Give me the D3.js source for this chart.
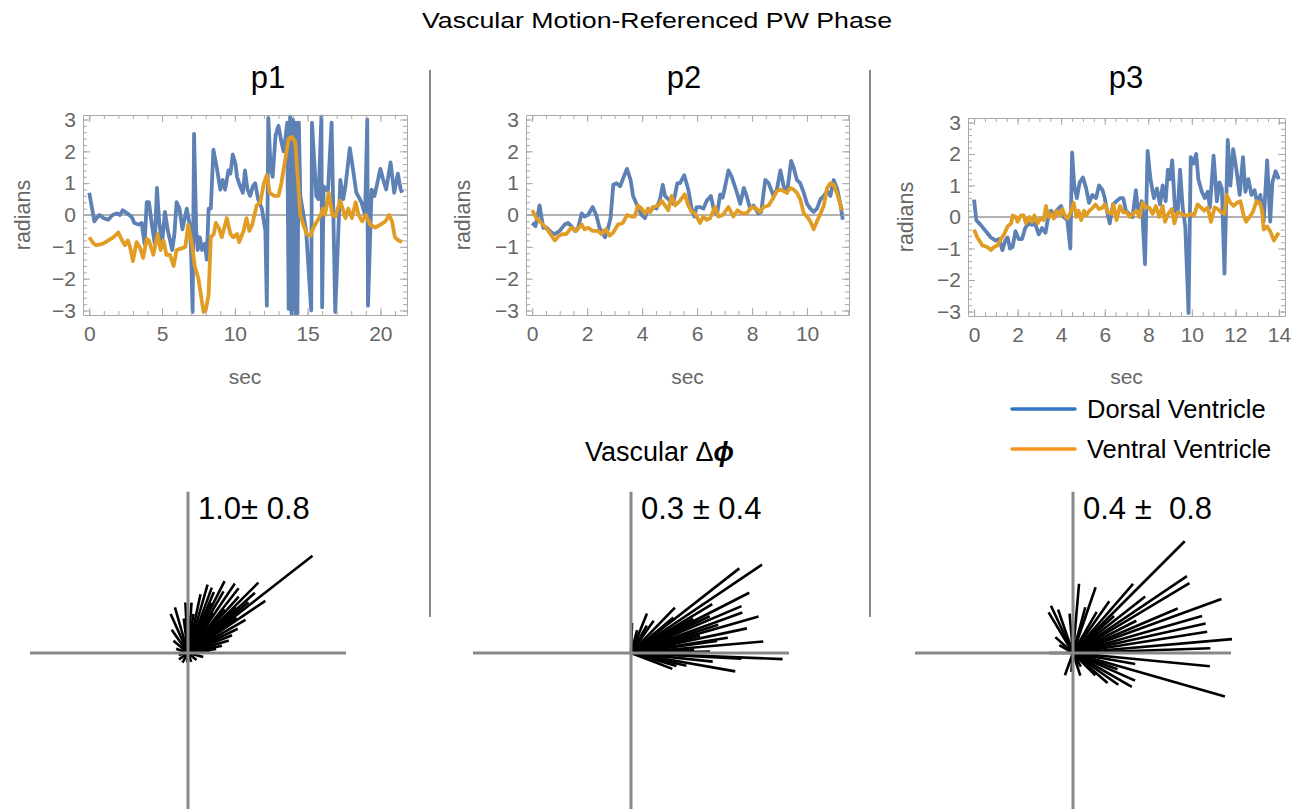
<!DOCTYPE html>
<html>
<head>
<meta charset="utf-8">
<script src="https://cdn.jsdelivr.net/npm/d3@7"></script>
<style>
  body { margin: 0; background: #fff; }
  text { font-family: "Liberation Sans", Arial, Helvetica, sans-serif; }
</style>
</head>
<body>
<div id="container"></div>
<script>
(function(){
  "use strict";

  // ---- data: [sec, radians] ----
  var p1Dorsal = [[0,0.7],[0.35,-0.2],[0.5,-0.1],[0.7,0.0],[1.0,-0.1],[1.3,-0.15],[1.6,0.0],[1.9,0.05],[2.1,0.0],[2.3,0.15],[2.6,0.05],[2.9,-0.05],[3.1,-0.25],[3.4,-0.3],[3.6,-0.25],[3.8,-0.9],[3.95,0.4],[4.1,0.4],[4.3,-0.3],[4.5,-0.9],[4.65,0.85],[4.8,-0.2],[5.0,-0.9],[5.2,0.1],[5.4,-0.5],[5.7,-1.1],[5.85,-0.6],[6.0,0.4],[6.2,0.2],[6.4,-0.45],[6.7,0.2],[6.9,-0.3],[7.0,-1.2],[7.1,-3.05],[7.2,2.55],[7.35,-0.5],[7.45,-1.1],[7.6,-0.7],[7.75,-1.1],[7.95,-0.9],[8.07,-1.4],[8.2,0.2],[8.35,0.2],[8.53,2.05],[8.76,1.5],[9.0,0.8],[9.17,1.1],[9.33,0.8],[9.45,1.1],[9.56,1.4],[9.7,1.3],[9.86,1.9],[10.05,1.6],[10.15,1.2],[10.37,0.9],[10.55,0.7],[10.7,1.4],[10.87,0.8],[11.05,0.6],[11.24,0.9],[11.4,1.0],[11.6,0.5],[11.86,0.2],[12.1,-0.5],[12.2,-2.85],[12.3,3.05],[12.45,1.6],[12.6,1.2],[12.8,2.5],[13.0,2.8],[13.2,2.3],[13.35,2.0],[13.45,2.3],[13.6,2.9],[13.7,-2.95],[13.8,3.1],[13.9,-3.1],[14.0,3.0],[14.05,-3.1],[14.2,2.9],[14.3,-3.1],[14.4,2.9],[14.5,0.6],[14.9,-0.5],[15.25,-3.0],[15.3,2.9],[15.6,0.6],[15.75,0.5],[15.95,3.1],[16.0,-2.9],[16.1,0.9],[16.4,0.75],[16.65,2.9],[16.9,-3.05],[17.25,1.1],[17.45,0.5],[17.6,0.9],[17.9,2.1],[18.1,1.5],[18.35,0.7],[18.7,0.4],[18.95,0.0],[19.1,3.0],[19.15,-2.85],[19.4,0.8],[19.6,0.6],[20.0,1.45],[20.2,1.1],[20.4,0.8],[20.7,1.65],[20.95,0.7],[21.2,1.3],[21.4,0.8],[21.5,0.7]];
  var p1Ventral = [[0,-0.7],[0.3,-0.9],[0.5,-0.95],[0.95,-0.9],[1.65,-0.7],[2.0,-0.55],[2.2,-0.75],[2.45,-0.95],[2.65,-0.8],[2.8,-1.0],[3.0,-1.45],[3.25,-0.85],[3.5,-1.05],[3.7,-1.35],[3.95,-0.75],[4.1,-0.8],[4.3,-1.1],[4.4,-1.25],[4.7,-0.6],[4.9,-1.1],[5.1,-0.8],[5.3,-1.25],[5.55,-1.25],[5.8,-1.6],[6.0,-1.1],[6.35,-1.05],[6.6,-1.0],[6.8,-0.3],[7.05,-0.9],[7.25,-1.6],[7.5,-2.0],[7.7,-2.6],[7.85,-3.05],[8.0,-3.0],[8.2,-2.5],[8.35,-0.7],[8.55,-0.6],[8.7,-0.25],[8.9,-0.4],[9.1,-0.7],[9.45,-0.1],[9.7,-0.6],[9.9,-0.7],[10.15,-0.6],[10.3,-0.85],[10.6,-0.5],[10.8,-0.1],[11.0,-0.5],[11.2,-0.3],[11.5,0.3],[11.75,0.4],[12.0,1.0],[12.2,1.25],[12.4,0.7],[12.7,0.6],[13.0,0.6],[13.2,1.0],[13.45,1.7],[13.7,2.4],[13.9,2.45],[14.15,2.3],[14.35,1.0],[14.5,0.0],[14.7,-0.3],[14.95,-0.6],[15.2,-0.65],[15.4,-0.4],[15.65,-0.2],[15.9,0.0],[16.05,0.2],[16.2,0.0],[16.45,0.7],[16.7,0.0],[16.9,-0.05],[17.25,0.45],[17.6,-0.1],[17.8,0.2],[18.05,-0.1],[18.3,0.4],[18.5,0.0],[18.75,-0.2],[19.0,0.0],[19.3,-0.3],[19.65,-0.4],[20.0,-0.3],[20.35,-0.2],[20.6,0.0],[20.8,-0.2],[21.0,-0.7],[21.25,-0.8],[21.5,-0.85]];

  var p2Dorsal = [[0,-0.25],[0.12,-0.35],[0.27,0.3],[0.4,-0.4],[0.53,-0.4],[0.7,-0.55],[0.82,-0.6],[1.0,-0.5],[1.18,-0.3],[1.3,-0.25],[1.42,-0.35],[1.55,-0.5],[1.67,-0.4],[1.8,0.05],[1.9,-0.05],[2.03,0.0],[2.2,0.25],[2.33,0.0],[2.45,-0.4],[2.65,-0.7],[2.75,-0.45],[2.85,-0.1],[2.95,0.95],[3.07,1.0],[3.2,0.9],[3.33,1.2],[3.45,1.45],[3.58,1.1],[3.67,0.6],[3.82,0.3],[3.98,0.0],[4.1,-0.1],[4.22,0.2],[4.3,0.1],[4.4,0.25],[4.52,0.2],[4.65,0.5],[4.75,0.95],[4.83,0.6],[4.95,0.5],[5.13,0.35],[5.28,1.0],[5.38,1.0],[5.53,1.25],[5.68,0.8],[5.8,0.2],[5.9,-0.05],[5.98,0.25],[6.1,0.25],[6.23,0.2],[6.35,0.45],[6.5,0.6],[6.6,0.2],[6.72,0.0],[6.84,0.65],[6.93,0.55],[7.02,0.9],[7.14,1.4],[7.26,1.2],[7.45,0.7],[7.57,0.35],[7.7,0.85],[7.8,0.6],[7.93,0.2],[8.05,0.3],[8.23,0.05],[8.33,0.1],[8.48,1.1],[8.6,1.0],[8.78,0.6],[8.9,0.8],[9.03,1.4],[9.15,0.9],[9.27,0.7],[9.42,1.7],[9.51,1.5],[9.63,1.1],[9.75,1.0],[9.88,0.7],[10.0,0.35],[10.12,0.2],[10.24,0.1],[10.36,0.2],[10.49,0.5],[10.61,0.6],[10.73,0.75],[10.85,0.6],[10.97,1.1],[11.1,0.8],[11.22,0.3],[11.3,-0.15]];
  var p2Ventral = [[0,0.15],[0.15,-0.1],[0.33,-0.25],[0.5,-0.4],[0.7,-0.65],[0.82,-0.8],[0.97,-0.65],[1.12,-0.6],[1.24,-0.6],[1.42,-0.4],[1.6,-0.5],[1.8,-0.3],[1.9,-0.45],[2.03,-0.4],[2.2,-0.5],[2.4,-0.5],[2.52,-0.6],[2.68,-0.45],[2.82,-0.65],[2.95,-0.55],[3.12,-0.3],[3.3,-0.25],[3.45,0.0],[3.6,-0.05],[3.73,-0.05],[3.85,0.3],[3.98,0.2],[4.1,0.05],[4.22,0.2],[4.3,0.1],[4.4,0.25],[4.6,0.3],[4.7,0.45],[4.83,0.3],[4.95,0.15],[5.07,0.6],[5.2,0.3],[5.38,0.45],[5.55,0.65],[5.68,0.3],[5.8,0.1],[5.93,0.05],[6.1,-0.25],[6.23,-0.05],[6.35,-0.15],[6.47,-0.1],[6.65,0.25],[6.78,-0.05],[6.93,0.0],[7.14,0.25],[7.32,-0.05],[7.47,0.15],[7.63,0.05],[7.8,0.05],[7.99,0.25],[8.15,0.2],[8.27,0.1],[8.42,0.25],[8.6,0.3],[8.78,0.55],[8.9,0.75],[9.03,0.8],[9.15,0.75],[9.27,0.7],[9.39,0.85],[9.51,0.8],[9.63,0.7],[9.75,0.5],[9.88,0.05],[10.0,-0.05],[10.12,-0.2],[10.24,-0.45],[10.36,-0.2],[10.49,0.05],[10.61,0.3],[10.73,0.85],[10.85,1.0],[10.97,0.95],[11.1,0.65],[11.28,0.15]];

  var p3Dorsal = [[0,0.55],[0.1,-0.1],[0.3,-0.25],[0.54,-0.45],[0.77,-0.65],[1.0,-0.75],[1.15,-0.7],[1.3,-1.05],[1.43,-0.75],[1.54,-0.65],[1.65,-1.0],[1.77,-0.95],[1.9,-0.45],[2.05,-0.7],[2.2,-0.7],[2.35,-0.35],[2.5,-0.2],[2.66,-0.25],[2.8,-0.2],[2.97,-0.55],[3.12,-0.35],[3.28,-0.5],[3.38,-0.1],[3.54,0.2],[3.7,0.0],[3.85,0.25],[4.0,0.35],[4.12,0.0],[4.28,-0.1],[4.42,-1.0],[4.5,2.05],[4.6,1.0],[4.72,0.6],[4.85,1.1],[5.0,1.25],[5.15,0.9],[5.28,0.45],[5.43,0.7],[5.6,0.6],[5.74,1.0],[5.9,0.85],[6.0,0.6],[6.1,0.2],[6.23,-0.2],[6.38,0.4],[6.54,0.5],[6.7,0.6],[6.85,0.6],[6.97,0.2],[7.12,0.1],[7.28,0.0],[7.43,0.85],[7.54,0.1],[7.7,0.5],[7.85,-1.5],[7.97,2.1],[8.1,1.2],[8.26,0.6],[8.4,0.9],[8.54,0.4],[8.66,1.0],[8.8,0.5],[8.9,1.5],[9.0,1.2],[9.1,1.8],[9.23,0.2],[9.35,0.1],[9.46,1.5],[9.58,0.3],[9.7,-0.3],[9.85,-3.05],[9.95,1.9],[10.08,1.7],[10.2,2.0],[10.3,1.2],[10.46,0.8],[10.6,0.6],[10.73,0.8],[10.83,0.3],[11.0,1.95],[11.15,0.5],[11.27,1.1],[11.38,0.9],[11.5,-1.8],[11.65,2.45],[11.77,1.0],[11.9,2.15],[12.05,1.5],[12.2,0.7],[12.35,1.9],[12.46,0.8],[12.6,1.2],[12.74,0.7],[12.88,0.85],[13.0,0.45],[13.15,0.7],[13.3,-0.15],[13.46,1.8],[13.6,-0.15],[13.7,1.1],[13.85,1.45],[14.0,1.2]];
  var p3Ventral = [[0,-0.4],[0.15,-0.65],[0.38,-0.9],[0.6,-0.95],[0.77,-1.05],[0.92,-0.95],[1.08,-0.9],[1.23,-0.7],[1.38,-0.55],[1.54,-0.3],[1.7,-0.2],[1.77,0.05],[1.92,0.0],[2.0,-0.15],[2.15,0.05],[2.28,0.05],[2.38,-0.2],[2.54,0.0],[2.66,-0.15],[2.77,0.05],[2.92,-0.2],[3.05,-0.05],[3.2,-0.1],[3.3,0.35],[3.43,0.0],[3.54,0.1],[3.66,-0.05],[3.77,0.2],[3.92,0.05],[4.05,0.25],[4.2,0.0],[4.3,-0.05],[4.46,0.2],[4.57,0.45],[4.7,0.0],[4.8,0.2],[4.92,-0.1],[5.05,0.2],[5.15,0.05],[5.3,0.2],[5.46,0.3],[5.57,0.4],[5.74,0.25],[5.9,0.3],[6.0,0.4],[6.15,0.15],[6.3,0.1],[6.4,0.4],[6.54,-0.1],[6.7,0.35],[6.85,0.15],[7.0,0.15],[7.15,0.0],[7.3,0.1],[7.46,0.2],[7.6,0.0],[7.74,0.45],[7.9,0.3],[8.05,0.3],[8.2,0.1],[8.35,0.35],[8.5,0.0],[8.66,0.35],[8.77,-0.15],[8.92,0.1],[9.08,0.25],[9.2,-0.2],[9.35,0.15],[9.5,0.1],[9.66,0.05],[9.8,0.05],[9.97,0.1],[10.1,0.05],[10.27,0.4],[10.42,0.3],[10.57,0.2],[10.73,0.3],[10.88,-0.15],[11.05,0.3],[11.2,0.25],[11.35,0.15],[11.5,0.1],[11.6,0.7],[11.77,0.45],[11.92,0.35],[12.07,0.45],[12.23,0.5],[12.38,0.05],[12.5,-0.15],[12.65,0.0],[12.8,0.15],[12.97,0.5],[13.12,0.45],[13.23,0.2],[13.3,-0.4],[13.46,-0.3],[13.6,-0.45],[13.77,-0.75],[13.9,-0.6],[14.0,-0.5]];

  // phase-difference vectors: [angle in degrees, relative length]
  var p1Vectors = [[38,1.0],[45,0.63],[34,0.59],[42,0.57],[40,0.50],[48,0.48],[52,0.52],[56,0.53],[60,0.45],[63,0.51],[67,0.42],[70,0.44],[74,0.45],[78,0.38],[30,0.42],[26,0.35],[22,0.30],[17,0.27],[12,0.22],[8,0.18],[36,0.38],[50,0.36],[58,0.30],[44,0.42],[65,0.35],[82,0.25],[86,0.32],[93,0.32],[97,0.22],[106,0.30],[114,0.27],[125,0.18],[140,0.12],[160,0.08],[190,0.06],[215,0.07],[240,0.07],[265,0.06],[290,0.06],[320,0.07],[345,0.10],[5,0.14]];
  var p2Vectors = [[34,1.0],[38,0.87],[27,0.84],[-2.3,0.96],[5,0.84],[-10,0.67],[20,0.75],[16,0.84],[23,0.76],[12,0.75],[9,0.62],[31,0.60],[46,0.40],[68,0.27],[88,0.19],[-21,0.28],[-13,0.36],[1,0.50],[-6,0.52],[25,0.55],[18,0.58],[29,0.45],[40,0.35],[55,0.25],[60,0.20],[75,0.15],[3,0.40],[-16,0.30],[14,0.45],[8,0.55],[-3,0.70]];
  var p3Vectors = [[45,1.0],[34,0.87],[31,0.86],[20,1.0],[5,1.01],[-16,1.0],[-5.5,0.87],[2,0.87],[9,0.86],[12.5,0.86],[16,0.85],[23,0.72],[38,0.58],[49,0.58],[71,0.44],[85,0.44],[121,0.30],[109,0.29],[138,0.15],[-110,0.15],[-72,0.15],[-30,0.43],[-24,0.43],[-41,0.29],[180,0.15],[-35,0.35],[-20,0.30],[-45,0.20],[60,0.30],[27,0.45],[42,0.35],[55,0.40],[75,0.30],[95,0.25],[115,0.33],[-10,0.40],[-60,0.10],[150,0.10],[-95,0.12]];

  var panelNames = ["p1", "p2", "p3"];
  var statLabels = ["1.0\u00b1 0.8", "0.3 \u00b1 0.4", "0.4 \u00b1 \u00a00.8"];
  var seriesNames = ["Dorsal Ventricle", "Ventral Ventricle"];
  var p1XTicks = [0, 5, 10, 15, 20];
  var p2XTicks = [0, 2, 4, 6, 8, 10];
  var p3XTicks = [0, 2, 4, 6, 8, 10, 12, 14];
  var yTicks = [-3, -2, -1, 0, 1, 2, 3];

  var dorsalColor = "#5e81b5", ventralColor = "#e19c24";
  var legendColors = ["#3574c4", "#f7931e"];
  var frameColor = "#aaaaaa", labelColor = "#666666";

  var svg = d3.select("#container").append("svg")
      .attr("width", 1306)
      .attr("height", 809);

  var panels = [
    { dorsal: p1Dorsal, ventral: p1Ventral, xDomain: [-0.43, 21.83], xTicks: p1XTicks, xMinor: 1,
      box: { l: 83, r: 407, t: 115, b: 315 }, titleX: 268, ylabX: 22,
      vectors: p1Vectors, origin: [188, 653] },
    { dorsal: p2Dorsal, ventral: p2Ventral, xDomain: [-0.226, 11.526], xTicks: p2XTicks, xMinor: 0.5,
      box: { l: 526, r: 849, t: 115, b: 315 }, titleX: 684, ylabX: 462,
      vectors: p2Vectors, origin: [631, 653] },
    { dorsal: p3Dorsal, ventral: p3Ventral, xDomain: [-0.28, 14.28], xTicks: p3XTicks, xMinor: 0.5,
      box: { l: 968, r: 1285, t: 118, b: 316 }, titleX: 1126, ylabX: 905,
      vectors: p3Vectors, origin: [1073, 653] }
  ];

  // title
  svg.append("text")
      .attr("x", 657).attr("y", 28)
      .attr("text-anchor", "middle")
      .attr("font-size", 22)
      .attr("textLength", 470)
      .attr("lengthAdjust", "spacingAndGlyphs")
      .text("Vascular Motion-Referenced PW Phase");

  // dividers
  [430, 870].forEach(function(xd) {
    svg.append("line")
        .attr("x1", xd).attr("x2", xd).attr("y1", 70).attr("y2", 617)
        .attr("stroke", "#888").attr("stroke-width", 2);
  });

  function styleAxis(sel) {
    sel.attr("font-family", null).attr("font-size", null);
    sel.select(".domain").attr("stroke", frameColor);
    sel.selectAll(".tick line").attr("stroke", frameColor);
    sel.selectAll(".tick text").attr("fill", labelColor).attr("font-size", 21);
  }

  panels.forEach(function(p, i) {
    var b = p.box;
    var x = d3.scaleLinear().domain(p.xDomain).range([b.l, b.r]);
    var y = d3.scaleLinear().domain([-Math.PI, Math.PI]).range([b.b, b.t]);
    var g = svg.append("g");

    g.append("text")
        .attr("x", p.titleX).attr("y", 88)
        .attr("text-anchor", "middle")
        .attr("font-size", 31)
        .text(panelNames[i]);

    var clipId = "clip" + i;
    g.append("clipPath").attr("id", clipId).append("rect")
        .attr("x", b.l).attr("y", b.t - 2).attr("width", b.r - b.l).attr("height", b.b - b.t + 4);

    g.append("line")
        .attr("x1", b.l).attr("x2", b.r).attr("y1", y(0)).attr("y2", y(0))
        .attr("stroke", "#999").attr("stroke-width", 1.3);

    var line = d3.line().x(function(d) { return x(d[0]); }).y(function(d) { return y(d[1]); });
    var traces = g.append("g").attr("clip-path", "url(#" + clipId + ")");
    [[p.dorsal, dorsalColor], [p.ventral, ventralColor]].forEach(function(s) {
      traces.append("path")
          .datum(s[0])
          .attr("d", line)
          .attr("fill", "none")
          .attr("stroke", s[1])
          .attr("stroke-width", 3.8)
          .attr("stroke-linejoin", "round");
    });

    var xMinor = d3.range(0, p.xDomain[1], p.xMinor);
    var yMinor = d3.range(-3, 3.01, 0.2);
    var fmt = d3.format("d");

    // frame: major + minor ticks on all four sides
    g.append("g").attr("transform", "translate(0," + b.b + ")")
        .call(d3.axisBottom(x).tickValues(p.xTicks).tickFormat(fmt).tickSizeInner(-7).tickSizeOuter(0).tickPadding(11))
        .call(styleAxis);
    g.append("g").attr("transform", "translate(0," + b.t + ")")
        .call(d3.axisTop(x).tickValues(p.xTicks).tickSizeInner(-7).tickSizeOuter(0).tickFormat(""))
        .call(styleAxis);
    g.append("g").attr("transform", "translate(" + b.l + ",0)")
        .call(d3.axisLeft(y).tickValues(yTicks).tickFormat(fmt).tickSizeInner(-7).tickSizeOuter(0).tickPadding(7))
        .call(styleAxis);
    g.append("g").attr("transform", "translate(" + b.r + ",0)")
        .call(d3.axisRight(y).tickValues(yTicks).tickSizeInner(-7).tickSizeOuter(0).tickFormat(""))
        .call(styleAxis);

    [[d3.axisBottom(x).tickValues(xMinor), "translate(0," + b.b + ")"],
     [d3.axisTop(x).tickValues(xMinor), "translate(0," + b.t + ")"],
     [d3.axisLeft(y).tickValues(yMinor), "translate(" + b.l + ",0)"],
     [d3.axisRight(y).tickValues(yMinor), "translate(" + b.r + ",0)"]].forEach(function(a) {
      var ag = g.append("g").attr("transform", a[1])
          .call(a[0].tickSizeInner(-4).tickSizeOuter(0).tickFormat(""))
          .call(styleAxis);
      ag.select(".domain").remove();
    });

    g.append("text")
        .attr("x", (b.l + b.r) / 2).attr("y", 384)
        .attr("text-anchor", "middle")
        .attr("font-size", 21).attr("fill", labelColor)
        .text("sec");
    g.append("text")
        .attr("transform", "translate(" + p.ylabX + "," + ((b.t + b.b) / 2) + ") rotate(-90)")
        .attr("text-anchor", "middle")
        .attr("dy", "0.35em")
        .attr("font-size", 21.5).attr("fill", labelColor)
        .text("radians");

    // vector plot
    var ox = p.origin[0], oy = p.origin[1];
    var vx = d3.scaleLinear().domain([-1, 1]).range([ox - 158, ox + 158]);
    var vy = d3.scaleLinear().domain([-1, 1]).range([oy + 158, oy - 158]);
    var vg = svg.append("g");
    vg.selectAll("line.vec")
        .data(p.vectors)
        .join("line")
        .attr("class", "vec")
        .attr("x1", vx(0)).attr("y1", vy(0))
        .attr("x2", function(d) { return vx(d[1] * Math.cos(d[0] * Math.PI / 180)); })
        .attr("y2", function(d) { return vy(d[1] * Math.sin(d[0] * Math.PI / 180)); })
        .attr("stroke", "#000")
        .attr("stroke-width", 2.6);
    vg.append("line")
        .attr("x1", vx(-1)).attr("x2", vx(1)).attr("y1", vy(0)).attr("y2", vy(0))
        .attr("stroke", "#888").attr("stroke-width", 3);
    vg.append("line")
        .attr("x1", vx(0)).attr("x2", vx(0)).attr("y1", vy(1.02)).attr("y2", vy(-1.02))
        .attr("stroke", "#888").attr("stroke-width", 3);
    vg.append("text")
        .attr("x", ox + 10).attr("y", 519)
        .attr("font-size", 31)
        .text(statLabels[i]);
  });

  // legend
  seriesNames.forEach(function(name, i) {
    var ly = 409 + i * 40;
    svg.append("line")
        .attr("x1", 1012).attr("x2", 1075).attr("y1", ly).attr("y2", ly)
        .attr("stroke", legendColors[i]).attr("stroke-width", 3.5)
        .attr("stroke-linecap", "round");
    svg.append("text")
        .attr("x", 1087).attr("y", ly + 9)
        .attr("font-size", 25.5)
        .text(name);
  });

  // Vascular delta-phi heading
  var head = svg.append("text")
      .attr("x", 585).attr("y", 461)
      .attr("font-size", 27);
  head.append("tspan").text("Vascular \u0394");
  head.append("tspan").attr("font-weight", "bold").attr("font-style", "italic").text("\u03d5");
})();
</script>
</body>
</html>
